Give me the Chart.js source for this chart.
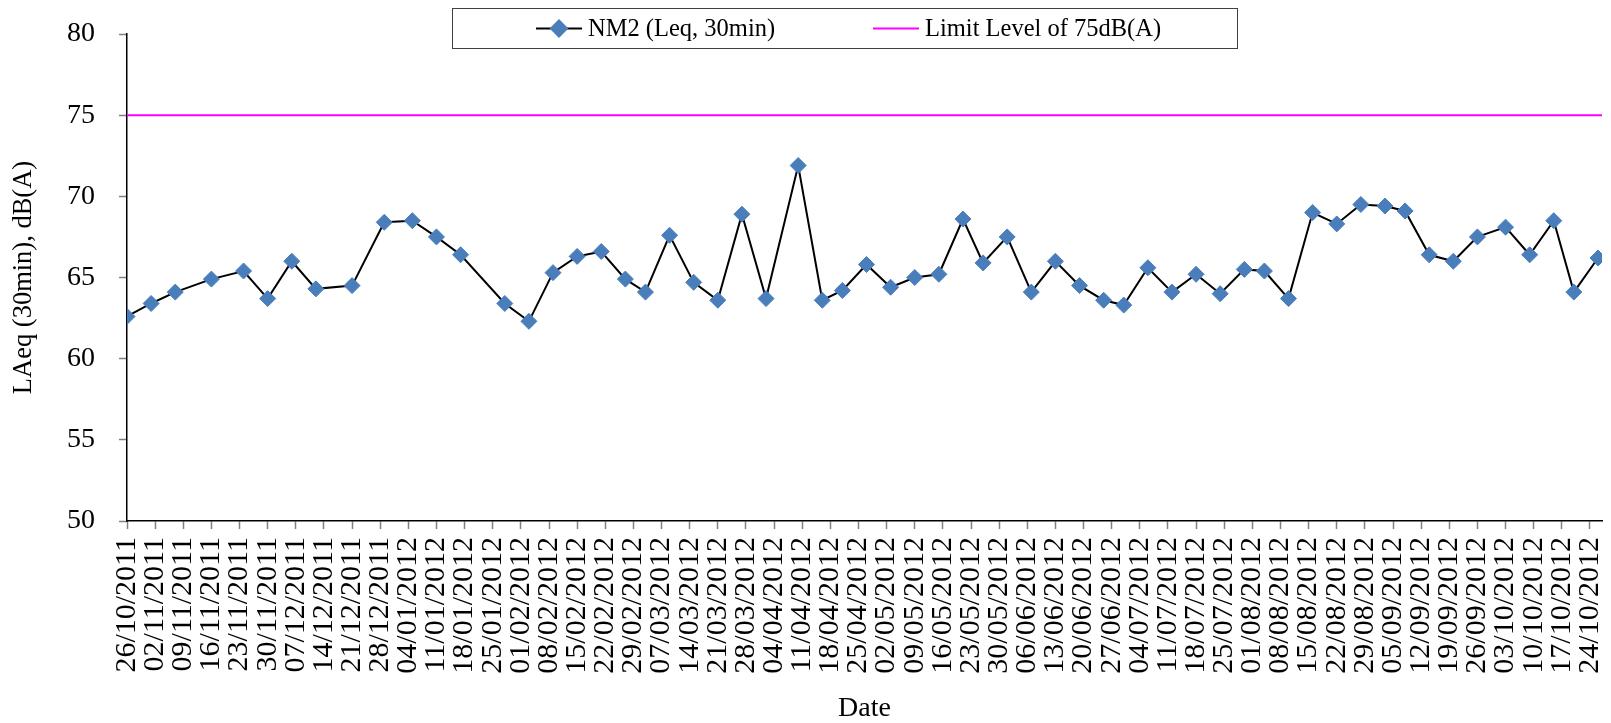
<!DOCTYPE html>
<html>
<head>
<meta charset="utf-8">
<script src="https://cdn.jsdelivr.net/npm/chart.js@4.4.1/dist/chart.umd.min.js"></script>
<style>
    html, body { margin: 0; padding: 0; background: #fff; }
    #wrap { width: 1611px; height: 723px; }
</style>
</head>
<body>
<div id="wrap"><canvas id="noiseChart" width="1611" height="723"></canvas></div>
<script>
// measurement dates and LAeq (30 min) readings at NM2
const measureDates = [
    '26/10/2011', '01/11/2011', '07/11/2011', '16/11/2011', '24/11/2011', '30/11/2011', '06/12/2011', '12/12/2011', '21/12/2011', '29/12/2011',
    '05/01/2012', '11/01/2012', '17/01/2012', '28/01/2012', '03/02/2012', '09/02/2012', '15/02/2012', '21/02/2012', '27/02/2012', '03/03/2012',
    '09/03/2012', '15/03/2012', '21/03/2012', '27/03/2012', '02/04/2012', '10/04/2012', '16/04/2012', '21/04/2012', '27/04/2012', '03/05/2012',
    '09/05/2012', '15/05/2012', '21/05/2012', '26/05/2012', '01/06/2012', '07/06/2012', '13/06/2012', '19/06/2012', '25/06/2012', '30/06/2012',
    '06/07/2012', '12/07/2012', '18/07/2012', '24/07/2012', '30/07/2012', '04/08/2012', '10/08/2012', '16/08/2012', '22/08/2012', '28/08/2012',
    '03/09/2012', '08/09/2012', '14/09/2012', '20/09/2012', '26/09/2012', '03/10/2012', '09/10/2012', '15/10/2012', '20/10/2012', '26/10/2012'
];
const laeqValues = [
    62.6, 63.4, 64.1, 64.9, 65.4, 63.7, 66.0, 64.3, 64.5, 68.4,
    68.5, 67.5, 66.4, 63.4, 62.3, 65.3, 66.3, 66.6, 64.9, 64.1,
    67.6, 64.7, 63.6, 68.9, 63.7, 71.9, 63.6, 64.2, 65.8, 64.4,
    65.0, 65.2, 68.6, 65.9, 67.5, 64.1, 66.0, 64.5, 63.6, 63.3,
    65.6, 64.1, 65.2, 64.0, 65.5, 65.4, 63.7, 69.0, 68.3, 69.5,
    69.4, 69.1, 66.4, 66.0, 67.5, 68.1, 66.4, 68.5, 64.1, 66.2
];
const limitLevel = 75;

// weekly tick labels on the date axis
const tickDates = [
    '26/10/2011', '02/11/2011', '09/11/2011', '16/11/2011', '23/11/2011', '30/11/2011', '07/12/2011', '14/12/2011', '21/12/2011', '28/12/2011',
    '04/01/2012', '11/01/2012', '18/01/2012', '25/01/2012', '01/02/2012', '08/02/2012', '15/02/2012', '22/02/2012', '29/02/2012', '07/03/2012',
    '14/03/2012', '21/03/2012', '28/03/2012', '04/04/2012', '11/04/2012', '18/04/2012', '25/04/2012', '02/05/2012', '09/05/2012', '16/05/2012',
    '23/05/2012', '30/05/2012', '06/06/2012', '13/06/2012', '20/06/2012', '27/06/2012', '04/07/2012', '11/07/2012', '18/07/2012', '25/07/2012',
    '01/08/2012', '08/08/2012', '15/08/2012', '22/08/2012', '29/08/2012', '05/09/2012', '12/09/2012', '19/09/2012', '26/09/2012', '03/10/2012',
    '10/10/2012', '17/10/2012', '24/10/2012'
];
const axisStart = '26/10/2011';
const axisEnd = '27/10/2012';
const yTicks = [50, 55, 60, 65, 70, 75, 80];

const FONT = 'Liberation Serif';

function toUTC(str) {
    const [d, m, y] = str.split('/').map(Number);
    return Date.UTC(y, m - 1, d);
}

// days since the start of the axis
function dayIndex(str) {
    return Math.round((toUTC(str) - toUTC(axisStart)) / 86400000);
}

// Excel style legend: boxed, floating above the plot
const boxLegend = {
    id: 'boxLegend',
    afterDraw(chart) {
        const ctx = chart.ctx;
        const ds = chart.data.datasets;
        const midY = 28.5;
        ctx.save();
        ctx.fillStyle = '#fff';
        ctx.fillRect(452, 8, 785, 40);
        ctx.strokeStyle = '#404040';
        ctx.lineWidth = 1;
        ctx.strokeRect(452.5, 8.5, 785, 40);

        // series sample
        ctx.strokeStyle = ds[0].borderColor;
        ctx.lineWidth = 2;
        ctx.beginPath();
        ctx.moveTo(536, midY);
        ctx.lineTo(582, midY);
        ctx.stroke();
        ctx.fillStyle = ds[0].pointBackgroundColor;
        ctx.strokeStyle = ds[0].pointBorderColor;
        Chart.helpers.drawPoint(ctx, { pointStyle: 'rectRot', radius: 8, borderWidth: 1 }, 559, midY);

        // limit sample
        ctx.strokeStyle = ds[1].borderColor;
        ctx.lineWidth = 2;
        ctx.beginPath();
        ctx.moveTo(873, midY);
        ctx.lineTo(919, midY);
        ctx.stroke();

        ctx.fillStyle = '#000';
        ctx.font = '24.5px "' + FONT + '"';
        ctx.textBaseline = 'middle';
        ctx.fillText(ds[0].label, 588, midY + 1);
        ctx.fillText(ds[1].label, 925, midY + 1);
        ctx.restore();
    }
};

const ctx = document.getElementById('noiseChart').getContext('2d');

new Chart(ctx, {
    type: 'line',
    data: {
        datasets: [{
            label: 'NM2 (Leq, 30min)',
            data: measureDates.map((d, i) => ({ x: dayIndex(d), y: laeqValues[i] })),
            borderColor: '#000000',
            borderWidth: 2,
            pointStyle: 'rectRot',
            pointRadius: 8,
            pointBackgroundColor: '#4a7ebb',
            pointBorderColor: '#4a7ebb',
            pointBorderWidth: 1,
            tension: 0
        }, {
            label: 'Limit Level of 75dB(A)',
            data: [
                { x: dayIndex(axisStart), y: limitLevel },
                { x: dayIndex(axisEnd), y: limitLevel }
            ],
            borderColor: '#ff00ff',
            borderWidth: 2,
            pointRadius: 0
        }]
    },
    options: {
        responsive: false,
        animation: false,
        layout: {
            padding: { left: 0, right: 8, top: 34, bottom: 0 }
        },
        plugins: {
            legend: { display: false },
            tooltip: { enabled: false }
        },
        scales: {
            x: {
                type: 'linear',
                min: dayIndex(axisStart),
                max: dayIndex(axisEnd),
                afterBuildTicks: scale => {
                    scale.ticks = tickDates.map(t => ({ value: dayIndex(t) }));
                },
                afterFit: scale => {
                    scale.height = 202;
                    scale.paddingLeft = 0;
                    scale.paddingRight = 0;
                },
                ticks: {
                    autoSkip: false,
                    minRotation: 90,
                    maxRotation: 90,
                    padding: 8,
                    color: '#000',
                    font: { family: FONT, size: 30 },
                    callback: (value, i) => tickDates[i]
                },
                grid: {
                    drawOnChartArea: false,
                    tickLength: 8,
                    tickColor: '#808080',
                    tickWidth: 1.5
                },
                border: { color: '#000', width: 1.5 },
                title: {
                    display: true,
                    text: 'Date',
                    color: '#000',
                    font: { family: FONT, size: 28, lineHeight: 1 },
                    padding: { top: 0, bottom: 0 }
                }
            },
            y: {
                min: 50,
                max: 80,
                afterBuildTicks: scale => {
                    scale.ticks = yTicks.map(v => ({ value: v }));
                },
                afterFit: scale => {
                    scale.width = 127;
                    scale.paddingTop = 0;
                    scale.paddingBottom = 0;
                },
                ticks: {
                    padding: 24,
                    color: '#000',
                    font: { family: FONT, size: 28 }
                },
                grid: {
                    drawOnChartArea: false,
                    tickLength: 8,
                    tickColor: '#808080',
                    tickWidth: 1.5
                },
                border: { color: '#000', width: 1.5 },
                title: {
                    display: true,
                    text: 'LAeq (30min), dB(A)',
                    color: '#000',
                    font: { family: FONT, size: 26.5 },
                    padding: { top: 8, bottom: 0 }
                }
            }
        }
    },
    plugins: [boxLegend]
});
</script>
</body>
</html>
